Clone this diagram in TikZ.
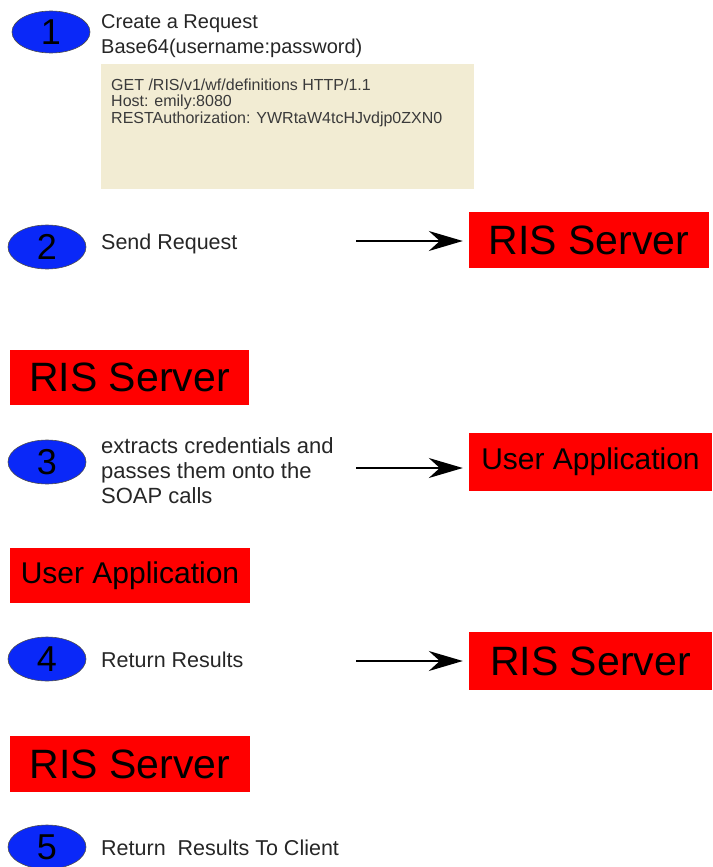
\documentclass[tikz,border=0pt]{standalone}
\usepackage{fontspec}
\setmainfont{Liberation Sans}
\usetikzlibrary{arrows.meta, positioning, shapes.geometric}
\definecolor{StepBlue}{HTML}{0A28F8}
\definecolor{SrvRed}{HTML}{FF0000}
\definecolor{CodeBg}{HTML}{F2ECD3}
\definecolor{CodeInk}{HTML}{3A3A3A}

\begin{document}
\begin{tikzpicture}[x=1pt, y=-1pt,
  num/.style={ellipse, draw=black!70, line width=0.6pt, fill=StepBlue,
              minimum width=78pt, minimum height=44pt, inner sep=0pt,
              font=\fontsize{36}{36}\selectfont},
  lab/.style={anchor=west, inner sep=0pt, align=left,
              font=\fontsize{21.5}{25}\selectfont, text=black!85},
  srv/.style={draw=none, fill=SrvRed, inner sep=0pt, minimum height=56pt,
              font=\fontsize{41}{41}\selectfont},
  srvRIS/.style={srv, minimum width=240pt},
  srvApp/.style={srv, minimum width=243pt, font=\fontsize{30}{30}\selectfont},
  flow/.style={->, line width=1.8pt, shorten >=6pt},
  >={Stealth[length=34pt, width=20pt, inset=11pt]}]
\useasboundingbox (0,0) rectangle (712,867);

% step 1: build the request
\node[num, minimum height=42pt] (n1) at (51,32) {1};
\node[lab, font=\fontsize{20}{25}\selectfont] (t1) at (101,36)
  {Create a Request\\Base64(username:password)};
\node[fill=CodeBg, minimum width=373pt, minimum height=125pt, anchor=north west,
  inner sep=0pt] (code) at (101,64) {};
\node[anchor=north west, inner sep=0pt, align=left, text=CodeInk,
  font=\fontsize{16}{16.2}\selectfont] (req) at ([xshift=10pt, yshift=-15pt]code.north west)
  {GET /RIS/v1/wf/definitions HTTP/1.1\\Host: emily:8080\\
   RESTAuthorization: YWRtaW4tcHJvdjp0ZXN0};

% step 2: send it
\node[num] (n2) at (47,247) {2};
\node[lab] (t2) at (101,244) {Send Request};
\node[srvRIS, minimum width=240pt] (ris2) at (589,240) {RIS Server};
\coordinate (a2) at (356,241);
\draw[flow] (a2) -- (ris2.west |- a2);

% step 3: server hands credentials on
\node[srvRIS, minimum width=239pt, minimum height=55pt] (ris3) at (129.5,377.5) {RIS Server};
\node[num] (n3) at (47,462) {3};
\node[lab, font=\fontsize{22}{25}\selectfont] (t3) at (101,471)
  {extracts credentials and\\passes them onto the\\SOAP calls};
\node[srvApp, minimum height=58pt] (app3) at (590.5,462) {User Application};
\coordinate (a3) at (356,468);
\draw[flow] (a3) -- (app3.west |- a3);

% step 4: results come back
\node[srvApp, minimum width=240pt, minimum height=55pt] (app4) at (130,575.5) {User Application};
\node[num] (n4) at (47,659) {4};
\node[lab] (t4) at (101,660) {Return Results};
\node[srvRIS, minimum width=243pt, minimum height=58pt] (ris4) at (590.5,661) {RIS Server};
\coordinate (a4) at (356,661);
\draw[flow] (a4) -- (ris4.west |- a4);

% step 5: back to the client
\node[srvRIS] (ris5) at (130,764) {RIS Server};
\node[num] (n5) at (47,847) {5};
\node[lab] (t5) at (101,848) {Return\ \ Results To Client};
\end{tikzpicture}
\end{document}
